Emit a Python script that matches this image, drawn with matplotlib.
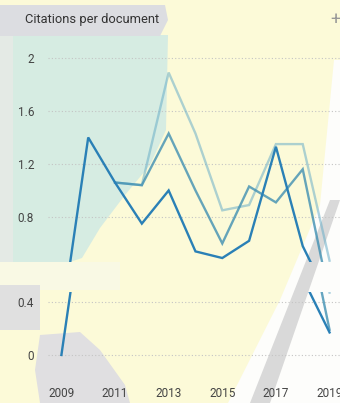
import matplotlib.pyplot as plt
from matplotlib.patches import Polygon
import numpy as np

years = [2009, 2010, 2011, 2012, 2013, 2014, 2015, 2016, 2017, 2018, 2019]
cites_2y = [0.00, 1.40, 1.06, 0.75, 1.00, 0.54, 0.49, 0.62, 1.33, 0.58, 0.17]
cites_3y = [np.nan, np.nan, 1.06, 1.04, 1.43, 1.00, 0.60, 1.03, 0.91, 1.16, 0.19]
cites_4y = [np.nan, np.nan, 1.06, 1.04, 1.89, 1.43, 0.85, 0.89, 1.35, 1.35, 0.47]
x_ticks = [2009, 2011, 2013, 2015, 2017, 2019]
y_ticks_top = [0.8, 1.2, 1.6, 2.0]
y_ticks_bottom = [0, 0.4]


def fmt(v):
    return f'{v:g}'


def main():
    plt.rcParams['font.family'] = ['Roboto', 'DejaVu Sans']
    fig = plt.figure(figsize=(3.4, 4.03), dpi=100)
    fig.patch.set_facecolor('#fcfad8')

    # background decoration (pixel space)
    bg = fig.add_axes([0, 0, 1, 1], zorder=0)
    bg.set_xlim(0, 340)
    bg.set_ylim(403, 0)
    bg.axis('off')
    shapes = [
        ('#d6ece2', [(0, 35), (168, 35), (166, 130), (150, 165), (125, 195),
                     (100, 228), (82, 258), (70, 262), (0, 262)]),
        ('#dcdde1', [(0, 5), (165, 5), (168, 20), (160, 36), (0, 36)]),
        ('#e4eae5', [(0, 36), (13, 36), (13, 262), (0, 262)]),
        ('#f9f9e4', [(0, 262), (120, 262), (120, 290), (0, 290)]),
        ('#e0e0e0', [(0, 285), (40, 285), (40, 330), (0, 330)]),
        ('#fdfdfb', [(334, 60), (340, 60), (340, 403), (228, 403), (280, 300),
                     (320, 205)]),
        ('#d9d9d9', [(330, 200), (340, 200), (270, 403), (250, 403)]),
        ('#e0dfe1', [(40, 335), (80, 332), (100, 350), (125, 385), (130, 403),
                     (40, 403), (35, 370)]),
    ]
    for col, pts in shapes:
        bg.add_patch(Polygon(pts, closed=True, facecolor=col, edgecolor='none'))

    fig.text(25 / 340, 1 - 20 / 403, 'Citations per document', fontsize=9.3,
             color='#333333', va='center', ha='left')
    fig.text(335 / 340, 1 - 20 / 403, '+', fontsize=13, color='#999999',
             va='center', ha='center')

    # the chart is split in two bands with an empty strip between them
    left, width = 48 / 340, 292 / 340
    ax_top = fig.add_axes([left, 1 - 262 / 403, width, 217 / 403], zorder=2)
    ax_bot = fig.add_axes([left, 1 - 362 / 403, width, 70.4 / 403], zorder=2)

    series = [
        (cites_4y, '#6aaec8', 0.55),
        (cites_3y, '#3f8fb2', 0.8),
        (cites_2y, '#2a80b6', 1.0),
    ]
    for ax in (ax_top, ax_bot):
        ax.set_facecolor('none')
        for s in ax.spines.values():
            s.set_visible(False)
        for vals, col, a in series:
            ax.plot(years, vals, color=col, alpha=a, lw=1.7, solid_joinstyle='miter')
        ax.set_xlim(2008.5, 2019.39)
        ax.tick_params(length=0, labelsize=8.5, labelcolor='#444444')
        ax.grid(axis='y', color='#c4c4c4', lw=0.8, ls=(0, (1, 2)))

    ax_top.set_ylim(0.46, 2.098)
    ax_top.set_yticks(y_ticks_top)
    ax_top.set_yticklabels([fmt(v) for v in y_ticks_top])
    ax_top.set_xticks([])

    ax_bot.set_ylim(-0.053, 0.478)
    ax_bot.set_yticks(y_ticks_bottom)
    ax_bot.set_yticklabels([fmt(v) for v in y_ticks_bottom])
    ax_bot.set_xticks(x_ticks)
    ax_bot.tick_params(axis='x', pad=18)
    ax_top.tick_params(axis='y', pad=10)
    ax_bot.tick_params(axis='y', pad=10)

    fig.savefig('out.png', dpi=100, facecolor=fig.get_facecolor())


if __name__ == "__main__":
    main()
